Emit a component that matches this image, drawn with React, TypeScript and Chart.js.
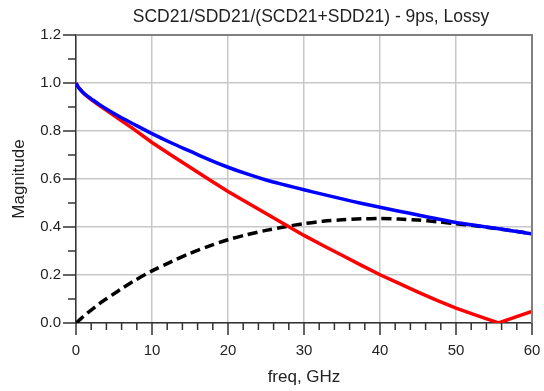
import React, { useEffect, useRef } from 'react';
import { Chart, registerables } from 'chart.js';

Chart.register(...registerables);

const titleText = 'SCD21/SDD21/(SCD21+SDD21) - 9ps, Lossy';
const xTitle = 'freq, GHz';
const yTitle = 'Magnitude';

const freq = [0, 0.25, 0.5, 1, 1.5, 2, 3, 4, 5, 6, 7.5, 10, 12.5, 15, 17.5, 20, 22.5, 25, 27.5, 30, 32.5, 35, 37.5, 40, 42.5, 45, 47.5, 50, 52.5, 55, 55.6, 57.5, 60];

const blueSeries = [1.0, 0.985, 0.975, 0.958, 0.945, 0.934, 0.912, 0.892, 0.873, 0.855, 0.83, 0.789, 0.751, 0.716, 0.681, 0.649, 0.621, 0.596, 0.575, 0.555, 0.536, 0.517, 0.499, 0.482, 0.466, 0.45, 0.434, 0.419, 0.407, 0.396, 0.393, 0.383, 0.372];

const redSeries = [1.0, 0.985, 0.975, 0.957, 0.943, 0.931, 0.908, 0.886, 0.864, 0.842, 0.81, 0.752, 0.7, 0.649, 0.598, 0.548, 0.502, 0.456, 0.41, 0.365, 0.323, 0.282, 0.241, 0.201, 0.165, 0.129, 0.094, 0.062, 0.034, 0.007, 0.0, 0.021, 0.048];

const blackSeries = [0.0, 0.007, 0.014, 0.028, 0.041, 0.054, 0.079, 0.101, 0.122, 0.143, 0.173, 0.217, 0.255, 0.29, 0.32, 0.347, 0.368, 0.386, 0.401, 0.414, 0.424, 0.43, 0.434, 0.435, 0.433, 0.429, 0.422, 0.414, 0.405, 0.395, 0.392, 0.384, 0.372];

const FONT = "'Liberation Sans', Arial, Helvetica, sans-serif";

const toPoints = (ys: number[]) => freq.map((x, i) => ({ x, y: ys[i] }));

const framePlugin = {
  id: 'frameAndTicks',
  afterDatasetsDraw(chart: any) {
    const { ctx, chartArea } = chart;
    const xs = chart.scales.x;
    const ys = chart.scales.y;
    ctx.save();
    ctx.strokeStyle = '#808080';
    ctx.lineWidth = 2;
    ctx.beginPath();
    ctx.moveTo(chartArea.left, chartArea.top);
    ctx.lineTo(chartArea.right, chartArea.top);
    ctx.lineTo(chartArea.right, chartArea.bottom);
    ctx.stroke();
    ctx.strokeStyle = '#333333';
    ctx.lineWidth = 1.5;
    ctx.beginPath();
    xs.ticks.forEach((t: any) => {
      const v = t.value;
      const px = xs.getPixelForValue(v);
      const major = Math.round(v) % 10 === 0;
      ctx.moveTo(px, chartArea.bottom);
      ctx.lineTo(px, chartArea.bottom + (major ? 12 : 7));
    });
    ys.ticks.forEach((t: any) => {
      const v = t.value;
      const py = ys.getPixelForValue(v);
      const major = Math.round(v * 10) % 2 === 0;
      ctx.moveTo(chartArea.left, py);
      ctx.lineTo(chartArea.left - (major ? 13 : 8), py);
    });
    ctx.stroke();
    ctx.restore();
  },
  afterDraw(chart: any) {
    const { ctx } = chart;
    ctx.save();
    ctx.fillStyle = '#222222';
    ctx.font = `17.5px ${FONT}`;
    ctx.textAlign = 'center';
    ctx.textBaseline = 'middle';
    ctx.fillText(titleText, 311, 17);
    ctx.restore();
  },
};

export default function App() {
  const ref = useRef<HTMLCanvasElement | null>(null);
  useEffect(() => {
    if (!ref.current) return;
    const chart = new Chart(ref.current, {
      type: 'line',
      data: {
        datasets: [
          {
            label: 'blue',
            data: toPoints(blueSeries),
            borderColor: '#0000ff',
            borderWidth: 3.5,
            pointRadius: 0,
            fill: false,
            tension: 0.3,
            order: 0,
          },
          {
            label: 'red',
            data: toPoints(redSeries),
            borderColor: '#ff0000',
            borderWidth: 3.5,
            pointRadius: 0,
            fill: false,
            order: 1,
          },
          {
            label: 'black',
            data: toPoints(blackSeries),
            borderColor: '#000000',
            borderWidth: 3.5,
            borderDash: [10, 5],
            pointRadius: 0,
            fill: false,
            tension: 0.3,
            order: 2,
          },
        ],
      },
      options: {
        animation: false,
        responsive: true,
        maintainAspectRatio: false,
        layout: { padding: { top: 35, right: 12, left: 0, bottom: 0 } },
        plugins: {
          legend: { display: false },
          tooltip: { enabled: false },
          title: { display: false },
        },
        scales: {
          x: {
            type: 'linear',
            min: 0,
            max: 60,
            afterFit: (s: any) => {
              s.height = 68;
              s.paddingLeft = 0;
              s.paddingRight = 0;
            },
            ticks: {
              stepSize: 2,
              autoSkip: false,
              maxRotation: 0,
              padding: 19,
              color: '#222222',
              font: { family: FONT, size: 15 },
              callback: (v: any) => (Math.round(v) % 10 === 0 ? String(v) : ''),
            },
            grid: {
              drawTicks: false,
              lineWidth: 1.5,
              color: (c: any) => (c.tick && Math.round(c.tick.value) % 10 === 0 ? '#c8c8c8' : 'rgba(0,0,0,0)'),
            },
            border: { color: '#333333', width: 1.5 },
            title: {
              display: true,
              text: xTitle,
              color: '#222222',
              font: { family: FONT, size: 17 },
              padding: { top: 0, bottom: 3 },
            },
          },
          y: {
            type: 'linear',
            min: 0,
            max: 1.2,
            afterFit: (s: any) => {
              s.width = 76;
              s.paddingTop = 0;
              s.paddingBottom = 0;
            },
            ticks: {
              stepSize: 0.1,
              autoSkip: false,
              padding: 15,
              color: '#222222',
              font: { family: FONT, size: 15 },
              callback: (v: any) => (Math.round(v * 10) % 2 === 0 ? Number(v).toFixed(1) : ''),
            },
            grid: {
              drawTicks: false,
              lineWidth: 1.5,
              color: (c: any) => (c.tick && Math.round(c.tick.value * 10) % 2 === 0 ? '#c8c8c8' : 'rgba(0,0,0,0)'),
            },
            border: { color: '#333333', width: 1.5 },
            title: {
              display: true,
              text: yTitle,
              color: '#222222',
              font: { family: FONT, size: 17 },
              padding: { top: 9, bottom: 0 },
            },
          },
        },
      },
      plugins: [framePlugin],
    });
    return () => chart.destroy();
  }, []);
  return (
    <div style={{ position: 'fixed', left: 0, top: 0, width: 544, height: 391 }}>
      <canvas ref={ref} />
    </div>
  );
}
